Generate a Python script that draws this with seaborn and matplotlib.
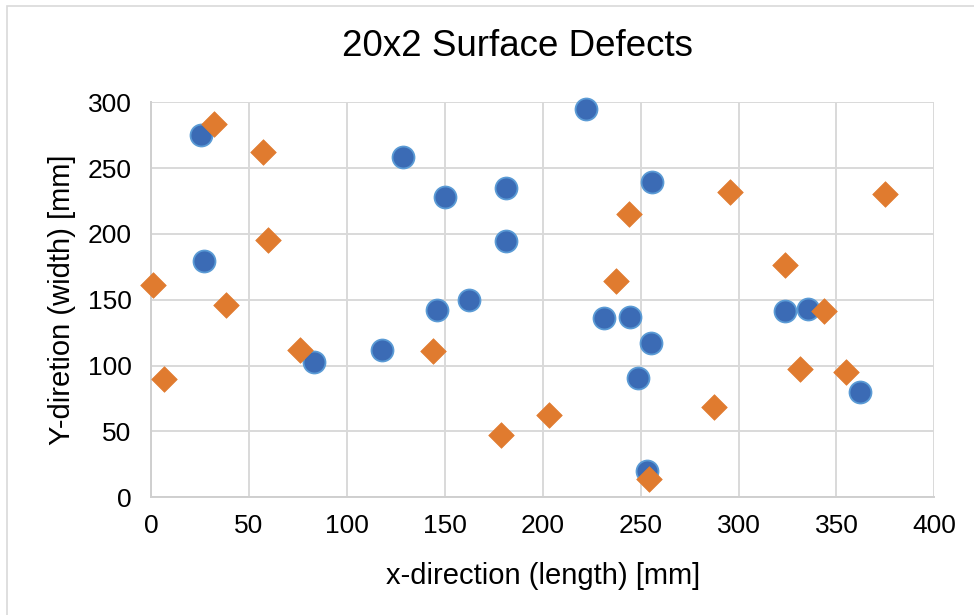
import pandas as pd
import seaborn as sns
import matplotlib.pyplot as plt
from matplotlib.patches import Rectangle

# series 1 (blue circles)
x_a = [25.5, 27.0, 83.0, 118.1, 128.6, 145.8, 150.1, 162.5, 181.1, 181.1,
       221.9, 255.6, 231.4, 244.7, 255.4, 248.6, 253.5, 323.6, 335.5, 362.1]
y_a = [275.2, 179.5, 102.8, 111.9, 258.5, 142.3, 227.8, 149.9, 234.7, 194.4,
       294.9, 239.7, 136.4, 136.9, 116.9, 90.6, 20.2, 141.7, 142.8, 80.0]

# series 2 (orange diamonds)
x_b = [0.9, 6.8, 32.0, 38.1, 57.2, 59.6, 76.1, 144.1, 178.8, 203.0,
       237.4, 244.0, 254.2, 287.5, 295.4, 323.8, 331.4, 343.5, 355.1, 374.7]
y_b = [161.0, 90.1, 283.8, 146.3, 262.2, 195.4, 112.1, 110.9, 47.3, 62.7,
       164.5, 214.9, 13.9, 68.6, 232.1, 176.7, 97.4, 141.3, 94.9, 230.6]

data = pd.DataFrame({
    'x': x_a + x_b,
    'y': y_a + y_b,
    'series': ['A'] * len(x_a) + ['B'] * len(x_b),
})

sns.set_style("white")
plt.rcParams['font.family'] = ['Liberation Sans', 'DejaVu Sans']
plt.rcParams['text.color'] = 'black'
plt.rcParams['axes.labelcolor'] = 'black'

fig = plt.figure(figsize=(9.74, 6.15), dpi=100)
ax = fig.add_axes([151 / 974, (615 - 497.3) / 615, 783.4 / 974, 395 / 615])

# light chart border
fig.patches.append(Rectangle((7 / 974, -0.1), 1.2, (615 - 6) / 615 + 0.1,
                             transform=fig.transFigure, fill=False,
                             edgecolor='#D9D9D9', linewidth=1.2))

blue = data[data['series'] == 'A']
orange = data[data['series'] == 'B']
sns.scatterplot(x='x', y='y', data=blue, ax=ax, marker='o', s=250,
                color='#3B6BB5', edgecolor='#5B9BD5', linewidth=1.3,
                zorder=3, clip_on=False)
sns.scatterplot(x='x', y='y', data=orange, ax=ax, marker='D', s=170,
                color='#E07B2F', edgecolor='#E07B2F', linewidth=0.5,
                zorder=3, clip_on=False)

ax.set_xlim(0, 400)
ax.set_ylim(0, 300)
ax.set_xticks(range(0, 401, 50))
ax.set_yticks(range(0, 301, 50))
ax.grid(True, color='#D9D9D9', linewidth=1.4)
ax.set_axisbelow(True)
for side in ['top', 'right']:
    ax.spines[side].set_visible(False)
for side in ['left', 'bottom']:
    ax.spines[side].set_color('#CFCFCF')
    ax.spines[side].set_linewidth(1.4)
ax.tick_params(axis='both', length=0, labelsize=19, colors='black')
ax.tick_params(axis='x', pad=12)
ax.tick_params(axis='y', pad=14)

ax.set_xlabel('x-direction (length) [mm]', fontsize=21, labelpad=17)
ax.set_ylabel('Y-diretion (width) [mm]', fontsize=21, labelpad=8)
fig.text(0.5 * (342 + 692) / 974, 1 - 47 / 615, '20x2 Surface Defects',
         ha='center', va='center', fontsize=26.5)

plt.savefig('out.png', dpi=100)
